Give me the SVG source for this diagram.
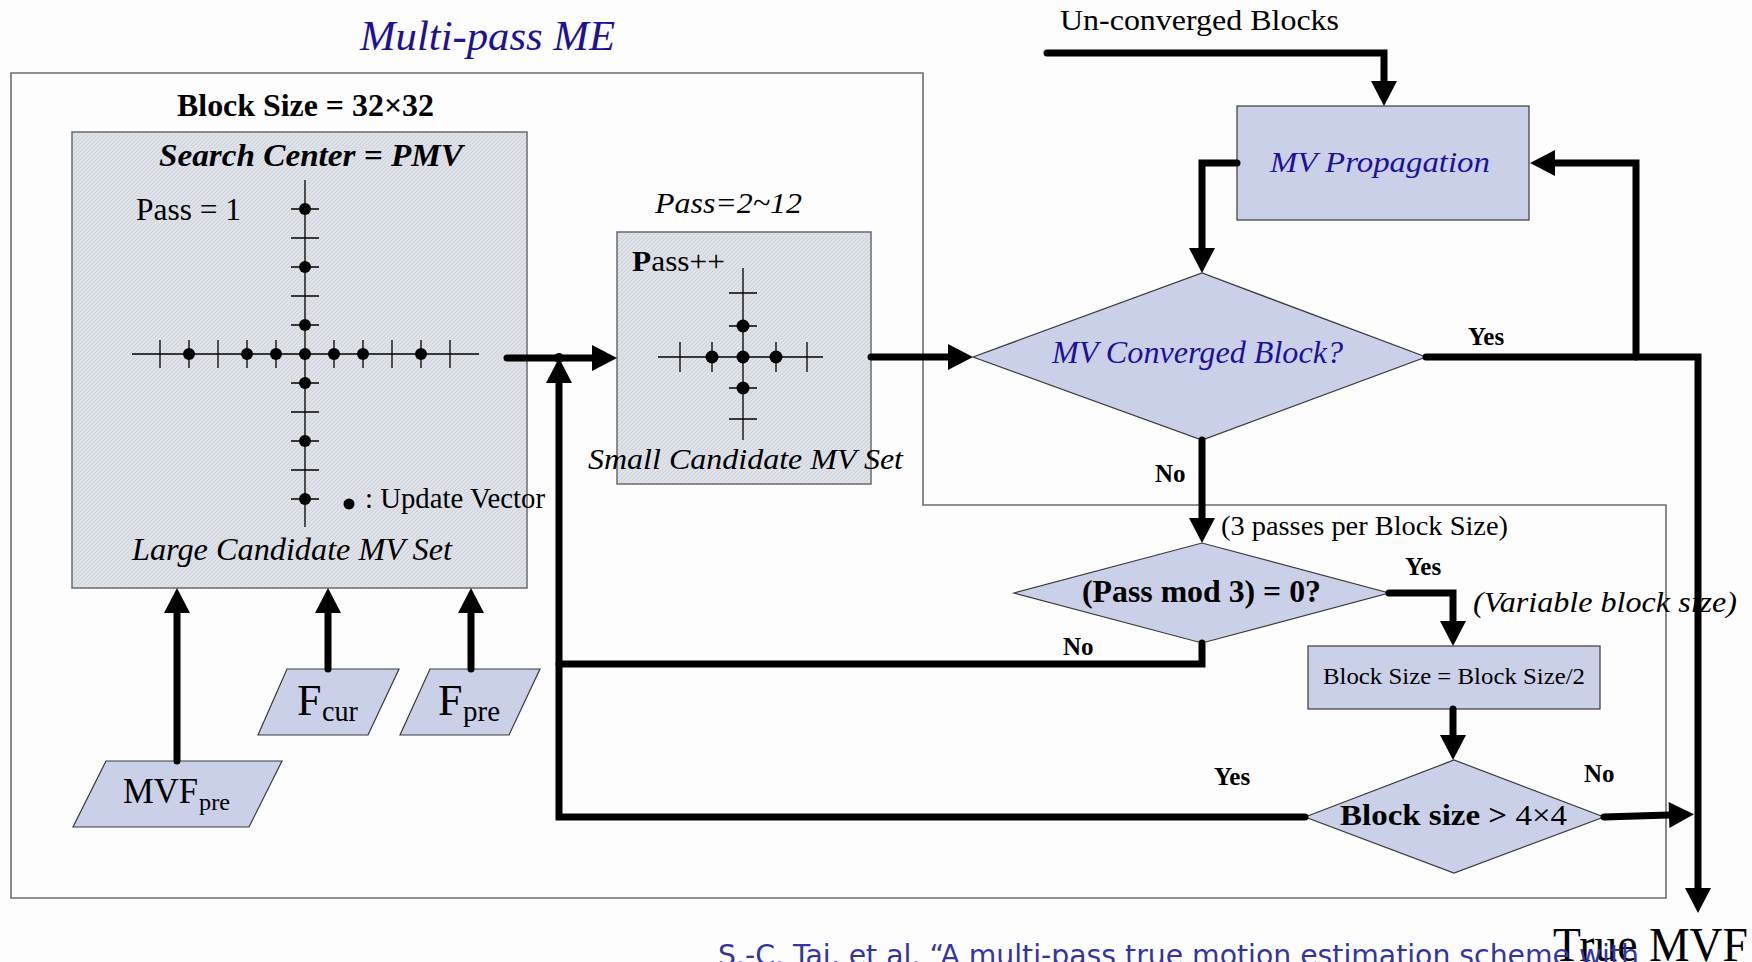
<svg xmlns="http://www.w3.org/2000/svg" width="1752" height="962" viewBox="0 0 1752 962">
  <defs>
    <style>
      .serif { font-family: "Liberation Serif", "Times New Roman", serif; fill: #000; }
      .blue { fill: #1f109c; }
      .b { font-weight: bold; }
      .i { font-style: italic; }
      .lbl { font-family: "Liberation Serif", "Times New Roman", serif; font-weight: bold; font-size: 25px; fill: #000; }
      .node { fill: #c9d0e8; stroke: #3a3a3a; stroke-width: 1.2; }
      .panel { fill: url(#hatch); stroke: #6a6a6a; stroke-width: 1.5; }
      .frame { fill: none; stroke: #6e6e6e; stroke-width: 1.6; }
      .conn { fill: none; stroke: #000; stroke-width: 7; stroke-linecap: round; stroke-linejoin: miter; }
      .arr { marker-end: url(#ah); }
      .axis { stroke: #000; stroke-width: 1.3; fill: none; }
      .dot { fill: #000; }
    </style>
    <pattern id="hatch" patternUnits="userSpaceOnUse" width="4" height="4">
      <rect width="4" height="4" fill="#dee1e8"/>
      <path d="M0,4 L4,0 M-1,1 L1,-1 M3,5 L5,3" stroke="#ccd0d8" stroke-width="0.8"/>
    </pattern>
    <marker id="ah" markerUnits="userSpaceOnUse" markerWidth="26" markerHeight="28" refX="0" refY="13" orient="auto" overflow="visible">
      <path d="M0,0 L25,13 L0,26 Z" fill="#000"/>
    </marker>
  </defs>

  <rect width="1752" height="962" fill="#fdfdfd"/>

  <!-- Multi-pass ME frame -->
  <g id="frame">
    <path class="frame" d="M11,73 L923,73 L923,505 L1666,505 L1666,898 L11,898 Z"/>
    <text class="serif i blue" x="360" y="50" font-size="42" textLength="255" lengthAdjust="spacingAndGlyphs">Multi-pass ME</text>
    <text class="serif b" x="177" y="116" font-size="32" textLength="257" lengthAdjust="spacingAndGlyphs">Block Size = 32×32</text>
  </g>

  <!-- Large candidate set -->
  <g id="large-set">
    <rect class="panel" x="72" y="132" width="455" height="456"/>
    <text class="serif b i" x="159" y="166" font-size="32" textLength="304" lengthAdjust="spacingAndGlyphs">Search Center  = PMV</text>
    <text class="serif" x="136" y="220" font-size="31" textLength="105" lengthAdjust="spacingAndGlyphs">Pass = 1</text>
    <path class="axis" d="M305,180 L305,527 M132,354 L479,354
      M291,238 L319,238 M291,296 L319,296 M291,412 L319,412 M291,470 L319,470
      M291,209 L319,209 M291,267 L319,267 M291,325 L319,325 M291,383 L319,383 M291,441 L319,441 M291,499 L319,499
      M160,340 L160,368 M218,340 L218,368 M392,340 L392,368 M450,340 L450,368
      M189,340 L189,368 M247,340 L247,368 M276,340 L276,368 M334,340 L334,368 M363,340 L363,368 M421,340 L421,368"/>
    <g class="dot">
      <circle cx="305" cy="209" r="6"/>
      <circle cx="305" cy="267" r="6"/>
      <circle cx="305" cy="325" r="6"/>
      <circle cx="305" cy="354" r="6"/>
      <circle cx="305" cy="383" r="6"/>
      <circle cx="305" cy="441" r="6"/>
      <circle cx="305" cy="499" r="6"/>
      <circle cx="189" cy="354" r="6"/>
      <circle cx="247" cy="354" r="6"/>
      <circle cx="276" cy="354" r="6"/>
      <circle cx="334" cy="354" r="6"/>
      <circle cx="363" cy="354" r="6"/>
      <circle cx="421" cy="354" r="6"/>
      <circle cx="349" cy="504" r="5.5"/>
    </g>
    <text class="serif" x="365" y="508" font-size="29" textLength="180" lengthAdjust="spacingAndGlyphs">: Update Vector</text>
    <text class="serif i" x="132" y="560" font-size="31" textLength="320" lengthAdjust="spacingAndGlyphs">Large Candidate MV Set</text>
  </g>

  <!-- Small candidate set -->
  <g id="small-set">
    <text class="serif i" x="655" y="213" font-size="30" textLength="147" lengthAdjust="spacingAndGlyphs">Pass=2~12</text>
    <rect class="panel" x="617" y="232" width="254" height="252"/>
    <text class="serif" x="632" y="271" font-size="29" textLength="93" lengthAdjust="spacingAndGlyphs"><tspan font-weight="bold">P</tspan>ass++</text>
    <path class="axis" d="M743,268 L743,440 M658,357 L823,357
      M729,293 L757,293 M729,419 L757,419 M729,326 L757,326 M729,388 L757,388
      M680,342 L680,372 M807,342 L807,372 M712,342 L712,372 M776,342 L776,372"/>
    <g class="dot">
      <circle cx="743" cy="326" r="6.5"/>
      <circle cx="743" cy="357" r="6.5"/>
      <circle cx="743" cy="388" r="6.5"/>
      <circle cx="712" cy="357" r="6.5"/>
      <circle cx="776" cy="357" r="6.5"/>
    </g>
    <text class="serif i" x="588" y="469" font-size="30" textLength="315" lengthAdjust="spacingAndGlyphs">Small Candidate MV Set</text>
  </g>

  <!-- Inputs -->
  <g id="fcur">
    <polygon class="node" points="287,669 399,669 368,735 258,735"/>
    <text class="serif" x="297" y="715" font-size="44">F</text>
    <text class="serif" x="322" y="721" font-size="29" textLength="36" lengthAdjust="spacingAndGlyphs">cur</text>
  </g>
  <g id="fpre">
    <polygon class="node" points="430,669 540,669 509,735 400,735"/>
    <text class="serif" x="438" y="715" font-size="44">F</text>
    <text class="serif" x="463" y="721" font-size="29" textLength="37" lengthAdjust="spacingAndGlyphs">pre</text>
  </g>
  <g id="mvfpre">
    <polygon class="node" points="106,761 282,761 249,827 73,827"/>
    <text class="serif" x="123" y="803" font-size="35" textLength="75" lengthAdjust="spacingAndGlyphs">MVF</text>
    <text class="serif" x="199" y="810" font-size="24" textLength="31" lengthAdjust="spacingAndGlyphs">pre</text>
  </g>

  <!-- Flow nodes -->
  <g id="unconverged">
    <text class="serif" x="1060" y="30" font-size="30" textLength="279" lengthAdjust="spacingAndGlyphs">Un-converged Blocks</text>
  </g>
  <g id="mv-propagation">
    <rect class="node" x="1237" y="106" width="292" height="114"/>
    <text class="serif i blue" x="1270" y="172" font-size="30" textLength="220" lengthAdjust="spacingAndGlyphs">MV Propagation</text>
  </g>
  <g id="mv-converged">
    <polygon class="node" points="973,357 1202,273 1426,357 1202,440"/>
    <text class="serif i blue" x="1052" y="363" font-size="32" textLength="291" lengthAdjust="spacingAndGlyphs">MV Converged Block?</text>
  </g>
  <g id="pass-mod">
    <polygon class="node" points="1014,593 1202,543 1389,593 1202,643"/>
    <text class="serif b" x="1082" y="602" font-size="31" textLength="239" lengthAdjust="spacingAndGlyphs">(Pass mod 3) = 0?</text>
  </g>
  <g id="halve">
    <rect class="node" x="1308" y="646" width="292" height="63"/>
    <text class="serif" x="1323" y="684" font-size="24" textLength="262" lengthAdjust="spacingAndGlyphs">Block Size = Block Size/2</text>
  </g>
  <g id="block-size-check">
    <polygon class="node" points="1305,817 1454,760 1604,817 1454,873"/>
    <text class="serif b" x="1340" y="825" font-size="30" textLength="227" lengthAdjust="spacingAndGlyphs">Block size &gt;  <tspan font-weight="normal">4×4</tspan></text>
  </g>
  <g id="true-mvf">
    <text class="serif" x="1553" y="961" font-size="48" textLength="195" lengthAdjust="spacingAndGlyphs">True MVF</text>
  </g>

  <!-- Connectors -->
  <g id="connectors">
    <path class="conn arr" d="M177,761 L177,613"/>
    <path class="conn arr" d="M328,669 L328,613"/>
    <path class="conn arr" d="M471,669 L471,613"/>
    <path class="conn arr" d="M507,358 L592,358"/>
    <path class="conn arr" d="M871,357 L948,357"/>
    <path class="conn arr" d="M1047,53 L1384,53 L1384,81"/>
    <path class="conn arr" d="M1237,163 L1202,163 L1202,248"/>
    <path class="conn arr" d="M1426,357 L1698,357 L1698,888"/>
    <path class="conn arr" d="M1636,357 L1636,163 L1555,163"/>
    <path class="conn arr" d="M1202,440 L1202,518"/>
    <path class="conn arr" d="M1389,593 L1453,593 L1453,621"/>
    <path class="conn arr" d="M1453,709 L1453,735"/>
    <path class="conn arr" d="M1604,817 L1669,815"/>
    <path class="conn" d="M1202,643 L1202,664 L559,664"/>
    <path class="conn" d="M1305,817 L559,817 L559,383" marker-end="url(#ah)"/>
    <circle cx="559" cy="358" r="5" fill="#000"/>
    <text class="lbl" x="1468" y="345">Yes</text>
    <text class="lbl" x="1155" y="482">No</text>
    <text class="lbl" x="1405" y="575">Yes</text>
    <text class="lbl" x="1063" y="655">No</text>
    <text class="lbl" x="1214" y="785">Yes</text>
    <text class="lbl" x="1584" y="782">No</text>
    <text class="serif" x="1221" y="535" font-size="27" textLength="287" lengthAdjust="spacingAndGlyphs">(3 passes per Block Size)</text>
    <text class="serif i" x="1473" y="612" font-size="30" textLength="264" lengthAdjust="spacingAndGlyphs">(Variable block size)</text>
  </g>

  <g id="caption">
    <text x="718" y="965" font-family="DejaVu Sans, Verdana, sans-serif" font-size="28" fill="#3434a4" textLength="921" lengthAdjust="spacingAndGlyphs">S.-C. Tai, et al. “A multi-pass true motion estimation scheme with</text>
  </g>
</svg>
